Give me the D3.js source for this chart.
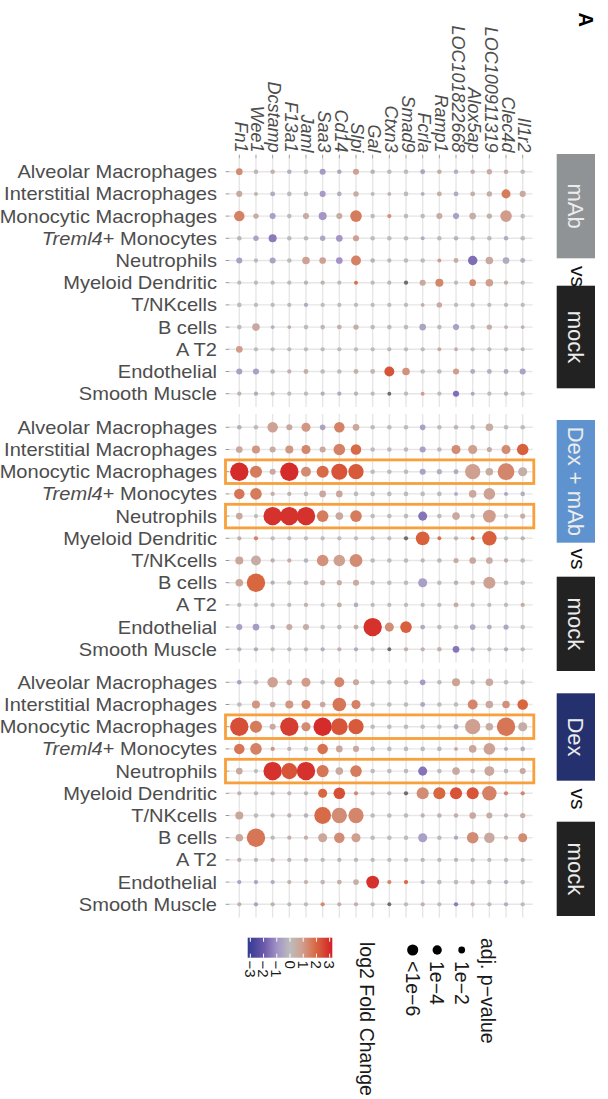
<!DOCTYPE html>
<html><head><meta charset="utf-8">
<script src="https://cdn.jsdelivr.net/npm/d3@7"></script>
<style>html,body{margin:0;padding:0;background:#fff;}svg{display:block;font-family:"Liberation Sans",Arial,Helvetica,sans-serif;}</style>
</head><body>
<svg id="chart" width="608" height="1099"></svg>
<script>
const genes = ["Fn1","Wee1","Dcstamp","F13a1","Jaml","Saa3","Cd14","Slpi","Gal","Ctxn3","Smad9","Fcrla","Ramp1","LOC101822668","Alox5ap","LOC100911319","Clec4d","Il1r2"];
const cellTypes = ["Alveolar Macrophages","Interstitial Macrophages","Monocytic Macrophages","Treml4+ Monocytes","Neutrophils","Myeloid Dendritic","T/NKcells","B cells","A T2","Endothelial","Smooth Muscle"];
const comparisons = ["mAb","Dex + mAb","Dex"];
const highlightRows = ["Monocytic Macrophages","Neutrophils"];
const colorTicks = [-3,-2,-1,0,1,2,3];
const sizeLegendValues = [2,4,6];
const sizeLegendLabels = ["1e\u22122","1e\u22124","<1e\u22126"];

// log2 fold change (null = NA) and -log10 adjusted p-value, rows = cellTypes, cols = genes
const fc_mAb = [
 [1.3,0.2,0.3,-0.3,0,-0.8,-0.5,0.8,-0.2,0,0,-0.6,0.5,-0.3,0.3,0.5,0.4,0],
 [0.6,0.3,-0.4,0,0.1,-0.8,-0.3,0.5,0.2,0.3,0,-0.3,0.4,-0.4,0.4,0.4,1.6,0.6],
 [1.5,0.5,-0.7,0,0.5,-0.9,0.5,1.6,0,1.2,0,0,0.5,-0.7,0.4,0.3,1.0,0],
 [0.2,-0.6,-1.4,0,0,-0.5,-0.9,0.9,0,0,0,-0.4,0,-0.2,0,0,-0.4,0],
 [-0.7,0,-0.6,0,0.8,0.8,-1.0,1.5,-0.2,0.1,0,0,1.0,0.5,-1.6,0.6,-0.4,-0.3],
 [0,0,0,0,-0.2,0.3,0,1.8,0,0.2,null,0.6,1.4,0,1.3,0.9,0.4,0],
 [0,0,0,0,-0.4,0,0,0,0,0,0,0.4,0.6,0,0,0,0,0],
 [0,0.6,-0.3,0.3,0,0.2,0.3,0.4,0,0,0,-0.6,0,-0.7,0,0.4,0.3,0.3],
 [1.0,0,0,0,0,0,0,0,0,0,0,0,0.5,0.3,0,0,0,0.2],
 [-0.7,-0.7,-0.2,0.3,0.4,0,0,0.3,0.2,2.3,1.2,0,0,1.0,-0.4,-0.3,-0.4,-0.6],
 [0.3,-0.4,0,0,0,-0.3,-0.4,-0.2,0,null,0,1.0,0,-1.6,-0.5,0,-0.2,0]
];
const nlp_mAb = [
 [1.5,0.6,0.6,0.6,0.6,1.2,0.6,1.2,0.6,0.6,0.6,0.7,0.6,0.6,0.6,0.9,0.6,0.6],
 [1.2,0.4,0.7,0.6,0.6,1.2,0.6,0.9,0.4,0.4,0.6,0.4,0.7,0.7,0.7,0.9,3.0,1.2],
 [4.2,0.9,1.2,0.6,1.2,2.3,1.2,5.2,0.6,0.5,0.6,0.6,1.2,1.2,1.5,0.9,5.2,0.6],
 [0.6,0.9,2.3,0.6,0.6,0.9,1.5,1.2,0.6,0.6,0.6,0.4,0.6,0.6,0.6,0.6,0.6,0.6],
 [1.2,0.5,1.2,0.6,2.0,1.5,1.5,3.7,0.6,0.5,0.6,0.6,0.4,0.7,3.3,2.0,1.5,0.7],
 [0.5,0.5,0.5,0.5,0.5,0.5,0.5,0.4,0.5,0.5,0.5,1.2,2.3,0.5,1.5,2.0,0.5,0.5],
 [0.6,0.5,0.5,0.5,0.5,0.5,0.5,0.5,0.5,0.5,0.5,0.4,0.9,0.5,0.5,0.5,0.5,0.5],
 [0.6,2.0,0.4,0.4,0.6,0.6,0.7,0.9,0.6,0.6,0.6,1.5,0.6,1.2,0.6,0.9,0.4,0.4],
 [1.5,0.5,0.5,0.5,0.5,0.5,0.5,0.5,0.5,0.5,0.5,0.5,0.4,0.4,0.5,0.5,0.5,0.4],
 [1.2,1.2,0.6,0.5,0.7,0.6,0.6,0.7,0.7,3.7,2.0,0.6,0.6,1.2,0.7,0.7,0.7,1.2],
 [0.5,0.5,0.5,0.5,0.5,0.5,0.5,0.5,0.5,0.4,0.5,0.4,0.5,1.2,0.4,0.5,0.5,0.5]
];
const fc_dexmAb = [
 [-0.3,0,0.8,0.6,1.1,-0.6,1.5,0.7,0,0,0,-0.7,0,0.2,0,0.5,0,0],
 [0.6,1.1,0.5,1.1,1.4,0.6,1.5,1.9,0,0,0,-0.7,0,1.3,0.9,0.5,1.3,2.1],
 [3.0,1.6,0.6,3.0,1.3,1.9,2.3,2.2,0,0,0,-0.6,-0.3,-0.4,0.9,0.5,1.4,0.4],
 [1.7,1.6,0.4,0.3,0,0.6,0.7,0,0,0,0,0,0,-0.4,0.6,0.8,-0.6,-0.3],
 [0.6,0,2.9,2.9,2.9,1.6,0.6,1.6,0,0,0,-1.5,0,0.6,0,1.0,0,0.5],
 [0.4,1.5,0,0,0,0,0,0,0,0,null,2.1,1.8,0.3,2.0,2.1,0,0.3],
 [0.7,0.5,0.4,0.5,-0.2,1.2,0.9,1.3,0,0,0,0.2,0.2,0.5,0.6,0.5,0.4,0],
 [0.7,2.0,-0.3,0,0.2,0.4,0.4,0.5,0,0,0,-0.7,0,-0.2,0.3,0.8,0,0],
 [0,0,0,0,0.3,0,0.4,-0.3,0,0,0,0,0,0.5,0,0,0,0.5],
 [-0.7,-0.8,-0.4,0.5,0.4,0,0,0.4,2.9,1.3,2.1,-0.4,0,0,-0.5,-0.3,-0.5,0],
 [-0.2,-0.4,0,0,0,-0.3,0.3,-0.4,0,null,0.4,0.3,0.3,-1.5,-0.3,0,-0.3,0]
];
const nlp_dexmAb = [
 [0.6,0.6,4.2,1.2,3.0,1.0,4.2,1.5,0.6,0.6,0.6,1.0,0.6,0.6,0.6,2.0,0.6,0.6],
 [1.5,2.3,1.2,2.3,3.0,1.2,5.2,4.2,0.6,0.6,0.6,1.2,0.6,3.0,3.0,0.8,3.0,5.2],
 [14,5.7,1.2,14,3.7,5.7,10.5,9.4,0.6,0.6,0.6,1.2,0.8,0.7,9.4,2.0,11.5,3.0],
 [4.2,5.2,0.5,0.5,0.6,1.5,1.5,0.6,0.6,0.6,0.6,0.6,0.6,0.4,2.0,5.2,0.4,0.6],
 [1.5,0.5,14,14,14,5.2,2.0,5.2,0.6,0.6,0.6,3.0,0.6,2.0,0.6,6.5,0.6,0.8],
 [0.5,0.5,0.5,0.5,0.5,0.5,0.5,0.5,0.5,0.5,0.5,7.5,0.4,0.5,0.4,8.3,0.5,0.5],
 [2.3,3.7,0.5,0.5,0.6,5.2,5.2,6.5,0.6,0.6,0.6,0.5,0.6,0.8,1.5,1.5,0.5,0.6],
 [2.0,14,0.5,0.6,0.6,0.8,0.8,1.2,0.6,0.6,0.6,3.0,0.6,0.6,0.6,5.7,0.6,0.6],
 [0.5,0.5,0.5,0.5,0.5,0.5,0.7,0.6,0.5,0.5,0.5,0.5,0.5,0.7,0.5,0.5,0.5,0.5],
 [1.2,1.5,0.7,1.2,1.2,0.6,0.6,0.7,14,3.0,5.2,0.7,0.6,0.6,1.0,0.7,0.8,0.6],
 [0.5,0.5,0.5,0.5,0.5,0.5,0.5,0.5,0.5,0.4,0.5,0.5,0.6,1.5,0.5,0.5,0.5,0.5]
];
const fc_dex = [
 [-0.7,0,0.8,0.6,1.0,0,1.4,0.6,0,0,0,-0.8,0,0.8,0,0.6,0,0],
 [0,1.1,0.5,1.1,1.4,0.6,1.7,1.5,0,0,0,-0.5,0,0,1.4,0.6,1.2,2.0],
 [2.4,1.6,0.6,2.7,1.3,3.0,2.3,2.2,0,0,0,0,0,-0.4,0.9,0.5,1.7,0.4],
 [1.7,1.5,1.1,0.2,0,1.8,0.7,0.6,0,0,0,0,0,0.6,0.7,0.8,-0.4,-0.3],
 [0.6,0,2.9,2.3,2.9,1.7,0.6,1.6,0,0,0,-1.5,0,0.6,0.3,0.7,0,0.6],
 [0.3,0.2,0.2,0.2,0.2,2.0,2.4,1.3,0,0,null,1.3,2.0,2.3,2.3,1.5,1.4,1.4],
 [0.7,0,0.3,0.3,-0.2,1.9,1.3,1.4,0,0,0,0.3,0.3,0.4,0.6,0.5,0.3,0.5],
 [0.7,1.7,0.2,0.4,0.4,0.7,1.3,0.9,0,0,0,-0.7,0,-0.5,1.3,0.6,0.4,1.3],
 [0.3,0.2,0.3,0.2,0.2,0,0.2,0.2,0,0,0,0.2,0,0.2,0,0,0,0.2],
 [-0.6,-0.6,-0.4,0.3,0.3,0.2,0.3,0.4,2.9,1.4,1.9,-0.4,0,0,0.2,0,-0.4,0],
 [0.3,-0.6,0.3,0,0,1.3,0.3,0.3,0,null,0,0.3,0,-1.4,0.3,0,-0.3,0]
];
const nlp_dex = [
 [0.6,0.6,4.2,1.0,3.0,0.6,3.7,1.2,0.6,0.6,0.6,1.0,0.6,2.3,0.6,2.0,0.6,0.6],
 [0.6,2.3,1.0,2.3,3.0,1.0,7.5,3.0,0.6,0.6,0.6,0.7,0.6,0.6,3.7,2.0,2.0,4.2],
 [14,5.7,1.2,14,3.0,14,11.5,9.4,0.6,0.6,0.6,0.6,0.6,0.7,9.4,2.0,14,3.0],
 [4.2,5.2,0.5,0.5,0.6,4.2,1.5,1.2,0.6,0.6,0.6,0.6,0.6,0.4,2.0,5.2,0.4,0.6],
 [1.5,0.5,14,10.5,14,5.7,2.0,5.2,0.6,0.6,0.6,3.0,0.6,2.0,0.6,3.7,0.6,1.2],
 [0.5,0.5,0.5,0.5,0.5,3.0,5.2,0.5,0.5,0.5,0.5,5.7,5.7,5.7,5.7,8.3,0.5,0.5],
 [2.3,0.6,0.5,0.5,0.6,11.5,9.4,9.4,0.6,0.6,0.6,0.5,0.6,0.6,1.5,1.2,0.5,0.8],
 [2.0,14,0.5,0.5,0.5,3.0,4.2,3.0,0.6,0.6,0.6,3.0,0.6,0.5,5.2,4.2,0.5,3.0],
 [0.5,0.5,0.5,0.5,0.5,0.5,0.5,0.5,0.5,0.5,0.5,0.5,0.5,0.5,0.5,0.5,0.5,0.5],
 [0.5,0.5,0.5,0.5,0.5,0.6,0.7,1.0,6.5,0.5,0.5,0.5,0.6,0.6,0.6,0.6,0.5,0.6],
 [0.5,0.5,0.5,0.5,0.5,0.5,0.5,0.5,0.5,0.4,0.5,0.5,0.5,0.5,0.5,0.5,0.5,0.5]
];
const panelFC = [fc_mAb, fc_dexmAb, fc_dex];
const panelNLP = [nlp_mAb, nlp_dexmAb, nlp_dex];

// ---------- drawing ----------
const svg = d3.select("#chart");
const textCol = "#4d4d4d";
const x = d3.scalePoint().domain(genes).range([239.3, 522.7]);
const step = x.step();
const panelTops = [171.7, 427.3, 682.3];
const rowSpan = 222.0;
const ys = panelTops.map(t => d3.scalePoint().domain(cellTypes).range([t, t + rowSpan]));
const color = d3.scaleLinear()
  .domain([-3.2,-2,-1,0,1,2,3.2])
  .range(["#323b94","#6a56a8","#a292c7","#bcbcbc","#d19c8b","#d8663f","#d41f27"])
  .clamp(true);
const naColor = "#6e6e6e";
const r = d3.scaleSqrt().domain([0, 14]).range([0.5, 9.2]);

const xMin = x.range()[0] - 0.6*step, xMax = x.range()[1] + 0.6*step;
const rowStep = ys[0].step();

ys.forEach((y, p) => {
  const g = svg.append("g");
  const y0 = y.range()[0] - 0.6*rowStep, y1 = y.range()[1] + 0.6*rowStep;
  g.selectAll("line.v").data(genes).join("line")
    .attr("x1", d => x(d)).attr("x2", d => x(d)).attr("y1", y0).attr("y2", y1)
    .attr("stroke", "#e6e6e6").attr("stroke-width", 1.4);
  g.selectAll("line.h").data(cellTypes).join("line").attr("class","h")
    .attr("x1", xMin).attr("x2", xMax).attr("y1", d => y(d)).attr("y2", d => y(d))
    .attr("stroke", "#e6e6e6").attr("stroke-width", 1.4);
  g.selectAll("line.t").data(cellTypes).join("line").attr("class","t")
    .attr("x1", xMin - 3.7).attr("x2", xMin).attr("y1", d => y(d)).attr("y2", d => y(d))
    .attr("stroke", "#9a9a9a").attr("stroke-width", 1);
  cellTypes.forEach(ct => {
    const t = g.append("g").attr("transform", `translate(217,${y(ct)}) scale(1.115,1)`)
      .append("text").attr("x", 0).attr("dy", "0.36em").attr("text-anchor", "end")
      .attr("font-size", 18).attr("fill", textCol);
    if (ct.startsWith("Treml4")) {
      t.append("tspan").attr("font-style", "italic").text("Treml4");
      t.append("tspan").text("+ Monocytes");
    } else t.text(ct);
  });
  const data = [];
  cellTypes.forEach((ct, i) => genes.forEach((gn, j) => {
    data.push({ct, gn, fc: panelFC[p][i][j], nlp: panelNLP[p][i][j]});
  }));
  g.selectAll("circle").data(data).join("circle")
    .attr("cx", d => x(d.gn)).attr("cy", d => y(d.ct))
    .attr("r", d => r(d.nlp))
    .attr("fill", d => d.fc === null ? naColor : color(d.fc));
  if (p > 0) {
    highlightRows.forEach(hr => {
      g.append("rect")
        .attr("x", 225.5).attr("y", y(hr) - 11.8)
        .attr("width", 533.8 - 225.5).attr("height", 23.6)
        .attr("fill", "none").attr("stroke", "#f7a03c").attr("stroke-width", 2.8);
    });
  }
});

const yAxisTop = ys[0].range()[0] - 0.6*rowStep;
svg.append("g").selectAll("line").data(genes).join("line")
  .attr("x1", d => x(d)).attr("x2", d => x(d)).attr("y1", yAxisTop - 3.7).attr("y2", yAxisTop)
  .attr("stroke", "#9a9a9a").attr("stroke-width", 1);
svg.append("g").selectAll("text").data(genes).join("text")
  .attr("transform", d => `translate(${x(d) - 4.5},152.5) rotate(90)`)
  .attr("text-anchor", "end").attr("font-size", 18).attr("font-style", "italic")
  .attr("fill", textCol).text(d => d);

const strips = [
  {top: [154, 258.3], bot: [285.7, 388.3], vs: 276.5, label: "mAb", fill: "#909396"},
  {top: [420, 542.7], bot: [576.7, 671], vs: 559, label: "Dex + mAb", fill: "#5f93cf"},
  {top: [693.3, 780.7], bot: [821.7, 916], vs: 799, label: "Dex", fill: "#25306f"}
];
strips.forEach((s, i) => {
  const g = svg.append("g");
  g.append("rect").attr("x", 556.7).attr("y", s.top[0]).attr("width", 38.3).attr("height", s.top[1]-s.top[0]).attr("fill", s.fill);
  g.append("rect").attr("x", 556.7).attr("y", s.bot[0]).attr("width", 38.3).attr("height", s.bot[1]-s.bot[0]).attr("fill", "#222222");
  g.append("text").attr("transform", `translate(568,${(s.top[0]+s.top[1])/2}) rotate(90)`)
    .attr("text-anchor", "middle").attr("font-size", 22).attr("fill", "#ececec").text(comparisons[i]);
  g.append("text").attr("transform", `translate(568,${(s.bot[0]+s.bot[1])/2}) rotate(90)`)
    .attr("text-anchor", "middle").attr("font-size", 22).attr("fill", "#ececec").text("mock");
  g.append("text").attr("transform", `translate(571,${s.vs}) rotate(90)`)
    .attr("text-anchor", "middle").attr("font-size", 21).attr("fill", "#111").text("vs");
});
svg.append("text").attr("transform", "translate(579,12.5) rotate(90)")
  .attr("font-size", 20).attr("font-weight", "bold").attr("fill", "#000").text("A");

const cl = d3.scaleLinear().domain([-3.2, 3.2]).range([247.7, 332.3]);
const defs = svg.append("defs");
const grad = defs.append("linearGradient").attr("id", "fcgrad").attr("x1", "0%").attr("x2", "100%");
d3.range(0, 1.0001, 0.05).forEach(t => {
  const v = -3.2 + 6.4*t;
  grad.append("stop").attr("offset", (t*100) + "%").attr("stop-color", color(v));
});
const lg = svg.append("g");
lg.append("rect").attr("x", cl.range()[0]).attr("y", 937.7).attr("width", cl.range()[1]-cl.range()[0]).attr("height", 20).attr("fill", "url(#fcgrad)");
colorTicks.forEach(v => {
  lg.append("line").attr("x1", cl(v)).attr("x2", cl(v)).attr("y1", 937.7).attr("y2", 941.7).attr("stroke", "#fff").attr("stroke-width", 1);
  lg.append("line").attr("x1", cl(v)).attr("x2", cl(v)).attr("y1", 953.7).attr("y2", 957.7).attr("stroke", "#fff").attr("stroke-width", 1);
  lg.append("text").attr("transform", `translate(${cl(v) - 5.3},960.5) rotate(90)`)
    .attr("font-size", 15).attr("fill", "#1a1a1a").text(v < 0 ? "\u2212" + Math.abs(v) : String(v));
});
lg.append("text").attr("transform", "translate(359.5,942) rotate(90)")
  .attr("font-size", 19.5).attr("fill", "#1a1a1a").text("log2 Fold Change");

const sg = svg.append("g");
sg.append("text").attr("transform", "translate(480.5,938) rotate(90)")
  .attr("font-size", 19.5).attr("fill", "#1a1a1a").text("adj. p\u2212value");
sizeLegendValues.forEach((v, i) => {
  const cx = 461.7 - i*24.5;
  sg.append("circle").attr("cx", cx).attr("cy", 950).attr("r", r(v)*0.9).attr("fill", "#000");
  sg.append("text").attr("transform", `translate(${cx - 7},961) rotate(90)`)
    .attr("font-size", 19.5).attr("fill", "#1a1a1a").text(sizeLegendLabels[i]);
});
</script>
</body></html>
